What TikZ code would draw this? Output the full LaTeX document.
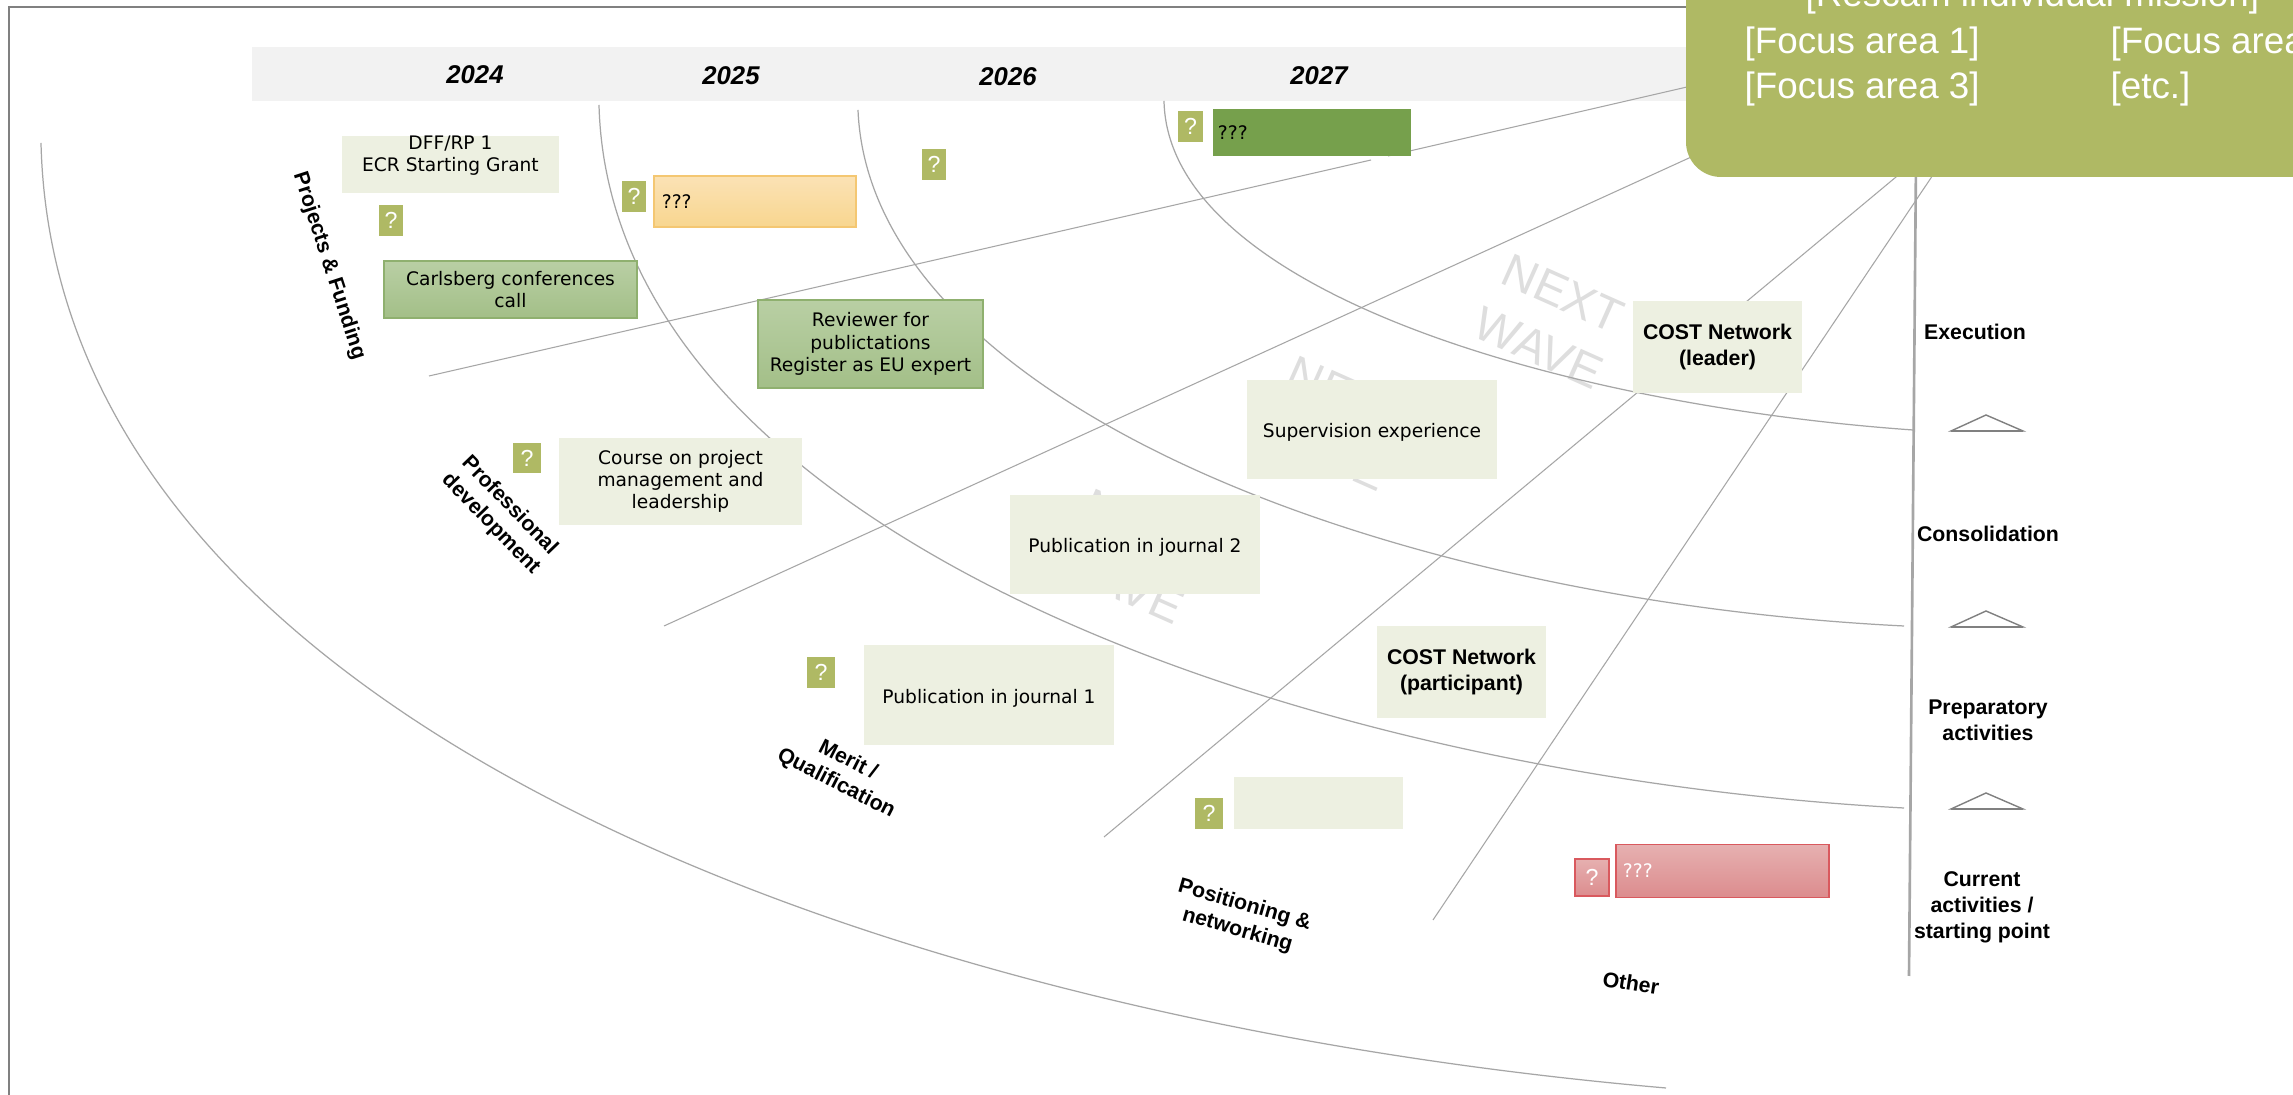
\documentclass[tikz,border=0pt]{standalone}
\usepackage{fontspec}
\setmainfont{Liberation Sans}
\newfontfamily\blockfont{DejaVu Sans}
\definecolor{olive}{HTML}{AFB964}
\definecolor{paleblock}{HTML}{EDF0E1}
\definecolor{band}{HTML}{F2F2F2}
\definecolor{rule}{HTML}{A6A6A6}
\definecolor{wave}{HTML}{DEDEDE}
\definecolor{greentop}{HTML}{B9CFA4}
\definecolor{greenbot}{HTML}{A3BF88}
\definecolor{greenline}{HTML}{8FB06F}
\definecolor{darkgreen}{HTML}{76A04C}
\definecolor{orangetop}{HTML}{FBE2B5}
\definecolor{orangebot}{HTML}{F8D68F}
\definecolor{orangeline}{HTML}{F4C772}
\definecolor{redtop}{HTML}{E6B0B0}
\definecolor{redbot}{HTML}{DC8C8E}
\definecolor{redline}{HTML}{D9595E}
\tikzset{
  yearlabel/.style={font=\fontsize{7.3}{9}\selectfont\bfseries\itshape},
  sidelabel/.style={font=\fontsize{6.05}{7.4}\selectfont\bfseries,align=center},
  block/.style={inner sep=0pt,align=center,font=\blockfont\fontsize{5.3}{6.3}\selectfont},
  paleblk/.style={block,fill=paleblock},
  lowered/.style={execute at begin node={\rule{0pt}{5.7pt}}},
  greenblk/.style={block,draw=greenline,line width=0.4pt,top color=greentop,bottom color=greenbot},
  redblk/.style={draw=redline,line width=0.4pt,top color=redtop,bottom color=redbot,text=white},
  qmark/.style={fill=olive,text=white,inner sep=0pt,font=\fontsize{6.6}{8}\selectfont},
  mission/.style={text=white,anchor=base west,inner sep=0pt,font=\fontsize{10.45}{12}\selectfont},
  nextwave/.style={text=wave,align=center,rotate=-24,font=\fontsize{13.5}{17}\selectfont},
  spoke/.style={draw=rule,line width=0.3pt},
  arcline/.style={draw=rule,line width=0.35pt},
  trimark/.style={draw=black!50,line width=0.4pt,line join=miter},
}
\begin{document}
\begin{tikzpicture}[x=0.01cm,y=-0.01cm]
    \clip (0,0) rectangle (2293,1095);
    \fill[white] (0,0) rectangle (2293,1095);

    % Outer frame and the band with the years
    \draw[black!50,line width=0.6pt] (9,1095) -- (9,7) -- (1720,7);
    \fill[band] (252,47) rectangle (1720,101);
    \node[yearlabel] (y24) at (475,75) {2024};
    \node[yearlabel] (y25) at (731,76) {2025};
    \node[yearlabel] (y26) at (1008,77) {2026};
    \node[yearlabel] (y27) at (1319,76) {2027};

    % Watermarks sit under everything else
    \node[nextwave] (waveA) at (1551,321) {NEXT\\WAVE};
    \node[nextwave] (waveB) at (1336,423) {NEXT\\WAVE};
    \node[nextwave] (waveC) at (1132,556) {NEXT\\WAVE};

    % The four arcs, from outer to inner
    \draw[arcline] (41,143) .. controls (55,720) and (880,1020) .. (1666,1088);
    \draw[arcline] (599,105) .. controls (610,530) and (1290,775) .. (1904,808);
    \draw[arcline] (858,110) .. controls (870,400) and (1380,600) .. (1904,626);
    \draw[arcline] (1164,101) .. controls (1168,290) and (1560,405) .. (1913,430);

    % Spokes: free end at the outside, other end behind the mission box
    \coordinate (spokeA) at (429,376);
    \coordinate (spokeAgap) at (1371,160);
    \coordinate (spokeAcont) at (1388,156);
    \coordinate (spokeAend) at (1700,84);
    \coordinate (spokeB) at (664,626);
    \coordinate (spokeBend) at (1700,153);
    \coordinate (spokeC) at (1104,837);
    \coordinate (spokeCend) at (1920,157);
    \coordinate (spokeD) at (1433,920);
    \coordinate (spokeDend) at (1945,157);
    \draw[spoke] (spokeA) -- (spokeAgap);
    \draw[spoke] (spokeAcont) -- (spokeAend);
    \draw[spoke] (spokeB) -- (spokeBend);
    \draw[spoke] (spokeC) -- (spokeCend);
    \draw[spoke] (spokeD) -- (spokeDend);

    % Vertical axis with the stage marks
    \coordinate (axisTop) at (1916,160);
    \coordinate (axisEnd) at (1909,976);
    \draw[rule,line width=0.75pt] (axisTop) -- (axisEnd);
    \foreach \ybase in {431,627,809} {
        \draw[trimark] (1951,\ybase) -- (1986,\ybase-16) -- (2023,\ybase) -- cycle;
        \draw[trimark,line width=0.7pt] (1951,\ybase) -- (2023,\ybase);
    }

    % Mission box runs off the page at the top and on the right
    \fill[olive,rounded corners=0.35cm] (1686,-80) rectangle (2400,177);
    \node[mission] (missionline) at (1805,7) {[Rescam individual mission]};
    \node[mission] (focusA) at (1744,54) {[Focus area 1]};
    \node[mission] (focusB) at (2110,54) {[Focus area 2]};
    \node[mission] (focusC) at (1744,99) {[Focus area 3]};
    \node[mission] (focusD) at (2110,99) {[etc.]};

    % Pale blocks
    \node[paleblk,minimum width=2.17cm,minimum height=0.57cm] (grant) at (450.5,164.5) {DFF/RP 1\\ECR Starting Grant\\ \mbox{}};
    \node[paleblk,lowered,minimum width=2.43cm,minimum height=0.87cm] (course) at (680.5,481.5) {Course on project\\management and\\leadership};
    \node[paleblk,lowered,minimum width=2.50cm,minimum height=0.99cm] (superv) at (1372,429.5) {Supervision experience};
    \node[paleblk,lowered,minimum width=2.50cm,minimum height=0.99cm] (pubB) at (1135,544.5) {Publication in journal 2};
    \node[paleblk,lowered,minimum width=2.50cm,minimum height=0.995cm] (pubA) at (989,695) {Publication in journal 1};
    \node[paleblk,minimum width=1.69cm,minimum height=0.92cm,font=\fontsize{6.05}{7.4}\selectfont\bfseries] (costL) at (1717.5,347) {COST Network\\(leader)};
    \node[paleblk,minimum width=1.69cm,minimum height=0.92cm,font=\fontsize{6.05}{7.4}\selectfont\bfseries] (costP) at (1461.5,672) {COST Network\\(participant)};
    \node[paleblk,minimum width=1.69cm,minimum height=0.52cm] (blank) at (1318.5,803) {};

    % Coloured blocks
    \node[greenblk,minimum width=2.53cm,minimum height=0.57cm] (carlsberg) at (510.5,289.5) {Carlsberg conferences\\call};
    \node[greenblk,lowered,minimum width=2.25cm,minimum height=0.88cm] (reviewer) at (870.5,344) {Reviewer for\\publictations\\Register as EU expert};
    \node[block,draw=orangeline,line width=0.4pt,top color=orangetop,bottom color=orangebot,minimum width=2.02cm,minimum height=0.51cm,text width=1.86cm,align=left] (orangeblk) at (755,201.5) {???};
    \node[block,fill=darkgreen,minimum width=1.98cm,minimum height=0.47cm,text width=1.88cm,align=left] (darkblk) at (1312,132.5) {???};
    \node[block,redblk,minimum width=2.13cm,minimum height=0.525cm,text width=1.99cm,align=left] (redbox) at (1722.5,871) {???};

    % Question marks
    \node[qmark,minimum width=0.24cm,minimum height=0.31cm] (qA) at (391,220.5) {?};
    \node[qmark,minimum width=0.24cm,minimum height=0.31cm] (qB) at (634,196.5) {?};
    \node[qmark,minimum width=0.24cm,minimum height=0.31cm] (qC) at (934,164.5) {?};
    \node[qmark,minimum width=0.25cm,minimum height=0.31cm] (qD) at (1190.5,126.5) {?};
    \node[qmark,minimum width=0.28cm,minimum height=0.30cm] (qE) at (527,458) {?};
    \node[qmark,minimum width=0.28cm,minimum height=0.31cm] (qF) at (821,672.5) {?};
    \node[qmark,minimum width=0.28cm,minimum height=0.31cm] (qG) at (1209,813.5) {?};
    \node[qmark,redblk,minimum width=0.34cm,minimum height=0.37cm] (qH) at (1592,877.5) {?};

    % Labels of the sectors
    \node[sidelabel,rotate=-72] (projects) at (329,266) {Projects \& Funding};
    \node[sidelabel,rotate=-46] (profdev) at (500,515) {Professional\\development};
    \node[sidelabel,rotate=-27] (merit) at (842,772) {Merit /\\Qualification};
    \node[sidelabel,rotate=-16] (position) at (1241,918) {Positioning \&\\networking};
    \node[sidelabel,rotate=-9] (other) at (1631,983) {Other};

    % Labels of the stages
    \node[sidelabel] (execution) at (1975,332) {Execution};
    \node[sidelabel] (consolid) at (1988,534) {Consolidation};
    \node[sidelabel] (prepar) at (1988,720) {Preparatory\\activities};
    \node[sidelabel] (current) at (1982,907) {Current\\activities /\\starting point};

\end{tikzpicture}
\end{document}
